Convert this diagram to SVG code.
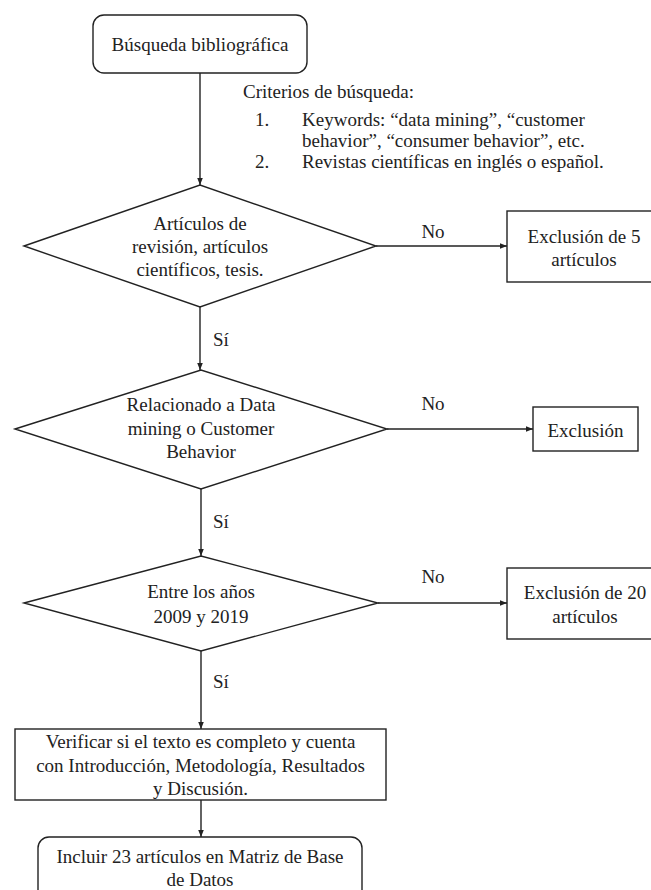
<svg xmlns="http://www.w3.org/2000/svg" width="651" height="890" viewBox="0 0 651 890">
<defs>
<style>
text{font-family:"Liberation Serif","Times New Roman",serif;font-size:19px;fill:#222}
.c{text-anchor:middle}
.shape{fill:#fff;stroke:#222;stroke-width:1.4}
.line{stroke:#222;stroke-width:1.4;fill:none}
</style>
<marker id="ah" viewBox="0 0 10 10" refX="10" refY="5" markerWidth="7" markerHeight="7" markerUnits="userSpaceOnUse" orient="auto">
<path d="M0,1 L10,5 L0,9 z" fill="#222"/>
</marker>
</defs>
<rect width="651" height="890" fill="#fff"/>
<g id="connectors">
<line class="line" x1="200" y1="73" x2="200" y2="185" marker-end="url(#ah)"/>
<line class="line" x1="200" y1="307" x2="200" y2="370" marker-end="url(#ah)"/>
<line class="line" x1="201" y1="489" x2="201" y2="556" marker-end="url(#ah)"/>
<line class="line" x1="201" y1="651" x2="201" y2="729" marker-end="url(#ah)"/>
<line class="line" x1="201" y1="800" x2="201" y2="837" marker-end="url(#ah)"/>
<line class="line" x1="376" y1="246" x2="507" y2="246" marker-end="url(#ah)"/>
<line class="line" x1="387" y1="429" x2="533" y2="429" marker-end="url(#ah)"/>
<line class="line" x1="378" y1="603" x2="507" y2="603" marker-end="url(#ah)"/>
<text x="213" y="346">Sí</text>
<text x="213" y="528">Sí</text>
<text x="213" y="688">Sí</text>
<text class="c" x="433" y="238">No</text>
<text class="c" x="433" y="410">No</text>
<text class="c" x="433" y="583">No</text>
</g>
<g id="start">
<rect class="shape" x="93" y="15" width="214" height="58" rx="11"/>
<text class="c" x="200" y="51">Búsqueda bibliográfica</text>
</g>
<g id="criteria">
<text x="243" y="98">Criterios de búsqueda:</text>
<text x="255" y="126">1.</text>
<text x="302" y="126">Keywords: “data mining”, “customer</text>
<text x="302" y="147">behavior”, “consumer behavior”, etc.</text>
<text x="255" y="168">2.</text>
<text x="302" y="168">Revistas científicas en inglés o español.</text>
</g>
<g id="decision1">
<polygon class="shape" points="24,246 200,185 376,246 200,307"/>
<text class="c" x="200" y="230">Artículos de</text>
<text class="c" x="200" y="253">revisión, artículos</text>
<text class="c" x="200" y="276">científicos, tesis.</text>
</g>
<g id="exclusion1">
<rect class="shape" x="507" y="211" width="160" height="71"/>
<text class="c" x="584" y="243">Exclusión de 5</text>
<text class="c" x="584" y="266">artículos</text>
</g>
<g id="decision2">
<polygon class="shape" points="15,429 201,370 387,429 201,489"/>
<text class="c" x="201" y="411">Relacionado a Data</text>
<text class="c" x="201" y="435">mining o Customer</text>
<text class="c" x="201" y="458">Behavior</text>
</g>
<g id="exclusion2">
<rect class="shape" x="533" y="407" width="105" height="44"/>
<text class="c" x="585.5" y="437">Exclusión</text>
</g>
<g id="decision3">
<polygon class="shape" points="24,603 201,556 378,603 201,651"/>
<text class="c" x="201" y="598">Entre los años</text>
<text class="c" x="201" y="623">2009 y 2019</text>
</g>
<g id="exclusion3">
<rect class="shape" x="507" y="568" width="160" height="71"/>
<text class="c" x="585" y="599">Exclusión de 20</text>
<text class="c" x="585" y="623">artículos</text>
</g>
<g id="verify">
<rect class="shape" x="15" y="729" width="371" height="71"/>
<text class="c" x="200.5" y="748">Verificar si el texto es completo y cuenta</text>
<text class="c" x="200.5" y="772">con Introducción, Metodología, Resultados</text>
<text class="c" x="200.5" y="795">y Discusión.</text>
</g>
<g id="include">
<rect class="shape" x="38" y="837" width="324" height="75" rx="11"/>
<text class="c" x="200" y="863">Incluir 23 artículos en Matriz de Base</text>
<text class="c" x="200" y="886">de Datos</text>
</g>
</svg>
